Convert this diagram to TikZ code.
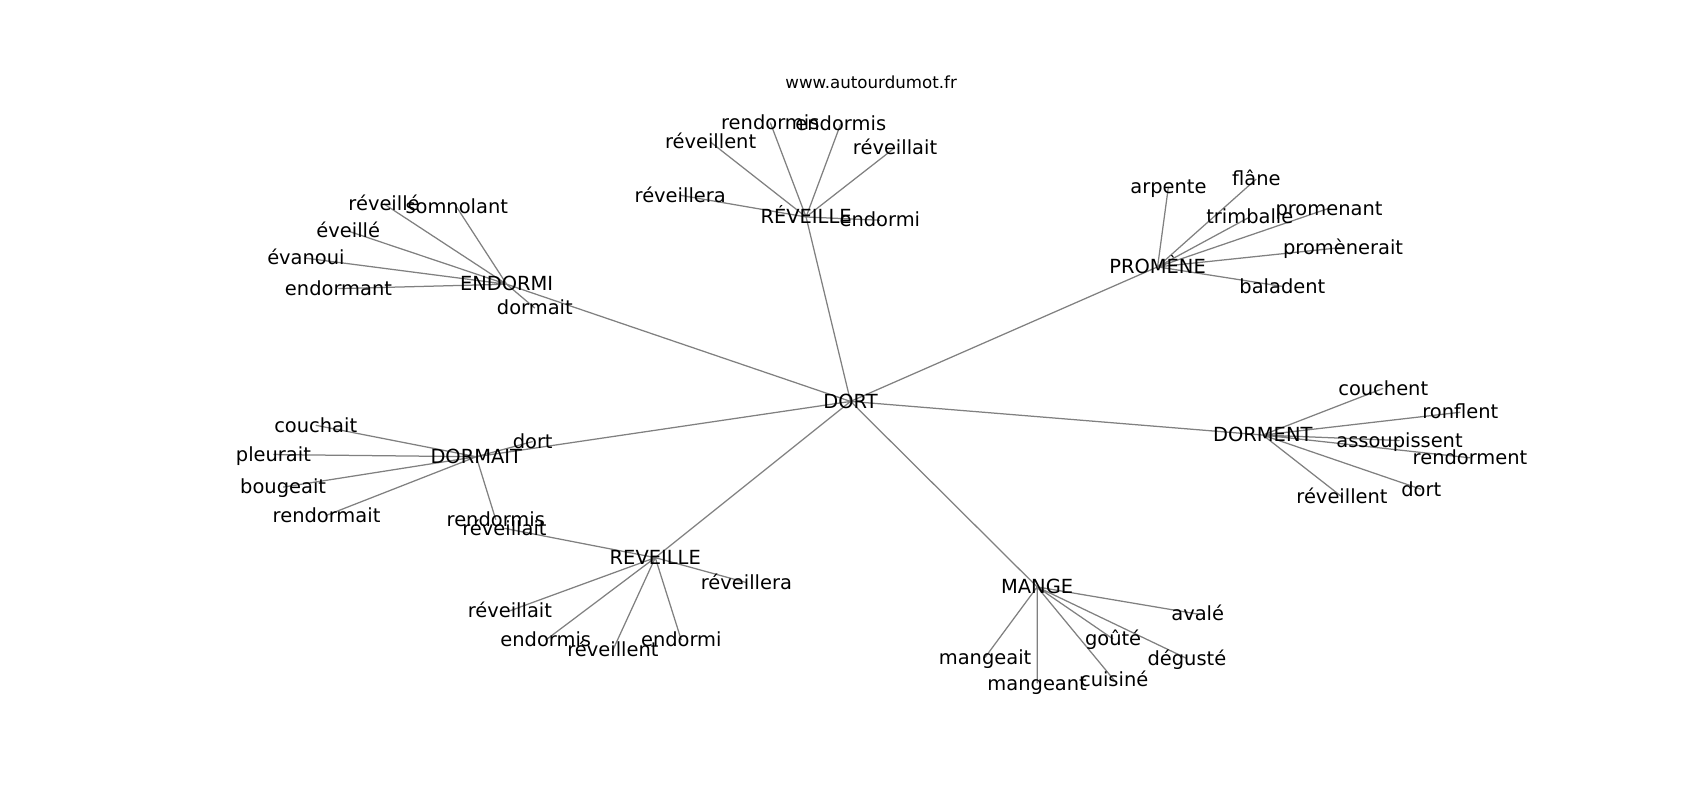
\documentclass[tikz,border=0pt]{standalone}
\usepackage{fontspec}
\setmainfont{DejaVu Sans}
\usetikzlibrary{backgrounds}

\begin{document}
\begin{tikzpicture}[x=0.781pt,y=-0.781pt]
    \tikzset{word/.style={font=\fontsize{14}{16}\selectfont, inner sep=0pt, text height=11.8pt, text depth=2.1pt},
        link/.style={draw=black!50, line width=0.9pt}}
    \useasboundingbox (0,0) rectangle (1567,737);

    \node[font=\fontsize{12}{14}\selectfont] (site) at (803,76) {www.autourdumot.fr};

    % centre
    \node[word] (dort) at (784,370) {DORT};

    % ENDORMI
    \node[word] (endormi) at (467,262) {ENDORMI};
    \node[word] (en-reveille) at (354,188) {réveillé};
    \node[word] (en-somnolant) at (421,191) {somnolant};
    \node[word] (en-eveille) at (321,213) {éveillé};
    \node[word] (en-evanoui) at (282,238) {évanoui};
    \node[word] (en-endormant) at (312,266) {endormant};
    \node[word] (en-dormait) at (493,284) {dormait};

    % RÉVEILLE
    \node[word] (reveille1) at (743,200) {RÉVEILLE};
    \node[word] (r1-rendormis) at (710,113) {rendormis};
    \node[word] (r1-endormis) at (775,114) {endormis};
    \node[word] (r1-reveillent) at (655,131) {réveillent};
    \node[word] (r1-reveillait) at (825,136) {réveillait};
    \node[word] (r1-reveillera) at (627,180) {réveillera};
    \node[word] (r1-endormi) at (811,203) {endormi};

    % PROMÈNE
    \node[word] (promene) at (1067,246) {PROMÈNE};
    \node[word] (pr-arpente) at (1077,172) {arpente};
    \node[word] (pr-flane) at (1158,165) {flâne};
    \node[word] (pr-trimballe) at (1152,200) {trimballe};
    \node[word] (pr-promenant) at (1225,192) {promenant};
    \node[word] (pr-promenerait) at (1238,228) {promènerait};
    \node[word] (pr-baladent) at (1182,264) {baladent};

    % DORMENT
    \node[word] (dorment) at (1164,401) {DORMENT};
    \node[word] (dt-couchent) at (1275,358) {couchent};
    \node[word] (dt-ronflent) at (1346,380) {ronflent};
    \node[word] (dt-assoupissent) at (1290,406) {assoupissent};
    \node[word] (dt-rendorment) at (1355,422) {rendorment};
    \node[word] (dt-reveillent) at (1237,458) {réveillent};
    \node[word] (dt-dort) at (1310,451) {dort};

    % DORMAIT
    \node[word] (dormait) at (439,421) {DORMAIT};
    \node[word] (da-couchait) at (291,392) {couchait};
    \node[word] (da-pleurait) at (252,419) {pleurait};
    \node[word] (da-bougeait) at (261,449) {bougeait};
    \node[word] (da-rendormait) at (301,475) {rendormait};
    \node[word] (da-dort) at (491,407) {dort};
    \node[word] (da-rendormis) at (457,479) {rendormis};

    % REVEILLE
    \node[word] (reveille2) at (604,514) {REVEILLE};
    \node[word] (r2-reveillait) at (465,487) {réveillait};
    \node[word] (r2-reveillera) at (688,537) {réveillera};
    \node[word] (r2-reveillaitb) at (470,563) {réveillait};
    \node[word] (r2-endormis) at (503,590) {endormis};
    \node[word] (r2-reveillent) at (565,599) {réveillent};
    \node[word] (r2-endormi) at (628,590) {endormi};

    % MANGE
    \node[word] (mange) at (956,541) {MANGE};
    \node[word] (ma-avale) at (1104,566) {avalé};
    \node[word] (ma-goute) at (1026,589) {goûté};
    \node[word] (ma-deguste) at (1094,607) {dégusté};
    \node[word] (ma-mangeait) at (908,606) {mangeait};
    \node[word] (ma-mangeant) at (956,630) {mangeant};
    \node[word] (ma-cuisine) at (1027,627) {cuisiné};

    \begin{pgfonlayer}{background}
        \draw[link] (dort.center) -- (endormi.center) (dort.center) -- (reveille1.center)
            (dort.center) -- (promene.center) (dort.center) -- (dorment.center)
            (dort.center) -- (dormait.center) (dort.center) -- (reveille2.center)
            (dort.center) -- (mange.center);
        \draw[link] (endormi.center) -- (en-reveille.center) (endormi.center) -- (en-somnolant.center)
            (endormi.center) -- (en-eveille.center) (endormi.center) -- (en-evanoui.center)
            (endormi.center) -- (en-endormant.center) (endormi.center) -- (en-dormait.center);
        \draw[link] (reveille1.center) -- (r1-rendormis.center) (reveille1.center) -- (r1-endormis.center)
            (reveille1.center) -- (r1-reveillent.center) (reveille1.center) -- (r1-reveillait.center)
            (reveille1.center) -- (r1-reveillera.center) (reveille1.center) -- (r1-endormi.center);
        \draw[link] (promene.center) -- (pr-arpente.center) (promene.center) -- (pr-flane.center)
            (promene.center) -- (pr-trimballe.center) (promene.center) -- (pr-promenant.center)
            (promene.center) -- (pr-promenerait.center) (promene.center) -- (pr-baladent.center);
        \draw[link] (dorment.center) -- (dt-couchent.center) (dorment.center) -- (dt-ronflent.center)
            (dorment.center) -- (dt-assoupissent.center) (dorment.center) -- (dt-rendorment.center)
            (dorment.center) -- (dt-reveillent.center) (dorment.center) -- (dt-dort.center);
        \draw[link] (dormait.center) -- (da-couchait.center) (dormait.center) -- (da-pleurait.center)
            (dormait.center) -- (da-bougeait.center) (dormait.center) -- (da-rendormait.center)
            (dormait.center) -- (da-dort.center) (dormait.center) -- (da-rendormis.center);
        \draw[link] (reveille2.center) -- (r2-reveillait.center) (reveille2.center) -- (r2-reveillera.center)
            (reveille2.center) -- (r2-reveillaitb.center) (reveille2.center) -- (r2-endormis.center)
            (reveille2.center) -- (r2-reveillent.center) (reveille2.center) -- (r2-endormi.center);
        \draw[link] (mange.center) -- (ma-avale.center) (mange.center) -- (ma-goute.center)
            (mange.center) -- (ma-deguste.center) (mange.center) -- (ma-mangeait.center)
            (mange.center) -- (ma-mangeant.center) (mange.center) -- (ma-cuisine.center);
    \end{pgfonlayer}
\end{tikzpicture}
\end{document}
